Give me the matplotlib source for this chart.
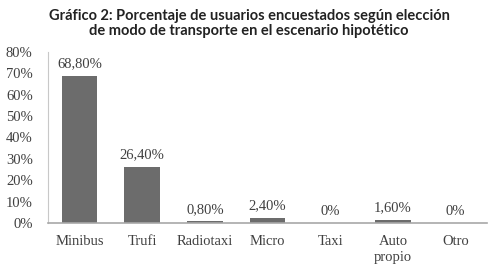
import matplotlib.pyplot as plt

categorias = ['Minibus', 'Trufi', 'Radiotaxi', 'Micro', 'Taxi', 'Auto\npropio', 'Otro']
porcentajes = [68.8, 26.4, 0.8, 2.4, 0.0, 1.6, 0.0]
etiquetas = ['68,80%', '26,40%', '0,80%', '2,40%', '0%', '1,60%', '0%']
yticks = [0, 10, 20, 30, 40, 50, 60, 70, 80]

fig = plt.figure(figsize=(4.95, 2.68), dpi=100)
ax = fig.add_axes([0.097, 0.168, 0.887, 0.638])

x = range(len(categorias))
ax.bar(x, porcentajes, width=0.57, color='#6c6c6c')
for xi, v, lab in zip(x, porcentajes, etiquetas):
    ax.text(xi, v + 2.5, lab, ha='center', va='bottom', fontsize=10.5,
            family='Liberation Serif', color='#404040')

ax.set_xlim(-0.5, 6.5)
ax.set_ylim(0, 80)
ax.set_yticks(yticks)
ax.set_yticklabels([f'{t}%' for t in yticks], family='Liberation Serif', fontsize=10.5, color='#404040')
ax.set_xticks(list(x))
ax.set_xticklabels(categorias, family='Liberation Serif', fontsize=10.5, color='#404040', linespacing=1.25)
ax.tick_params(axis='x', length=0, pad=9)
ax.tick_params(axis='y', length=0, pad=11)

for s in ['top', 'right']:
    ax.spines[s].set_visible(False)
ax.spines['left'].set_color('#c8c8c8')
ax.spines['bottom'].set_color('#a8a8a8')
ax.spines['bottom'].set_linewidth(1.2)

fig.text(0.503, 0.968, 'Gráfico 2: Porcentaje de usuarios encuestados según elección\nde modo de transporte en el escenario hipotético',
         ha='center', va='top', fontsize=10.5, fontweight='bold', family='Lato',
         color='#222222', linespacing=1.1)

fig.savefig('out.png', dpi=100)
